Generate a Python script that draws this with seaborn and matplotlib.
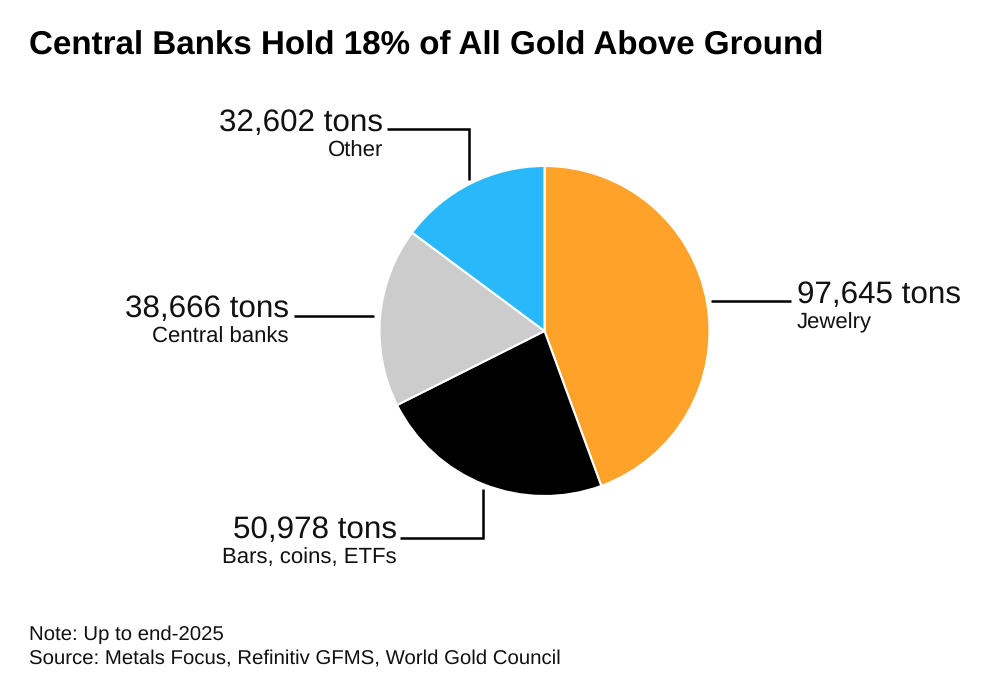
import matplotlib.pyplot as plt
import seaborn as sns

# tons, going clockwise from 12 o'clock
categories = ["Jewelry", "Bars, coins, ETFs", "Central banks", "Other"]
tons = [97645, 50978, 38666, 32602]
tick_labels = ["97,645 tons", "50,978 tons", "38,666 tons", "32,602 tons"]
colors = ["#ffa229", "#000000", "#cccccc", "#29b9fb"]

sns.set_theme(style="white")
plt.rcParams["font.family"] = ["Liberation Sans", "DejaVu Sans"]
plt.rcParams["text.hinting"] = "no_hinting"

W, H = 1000, 693
fig = plt.figure(figsize=(W / 100, H / 100), dpi=100, facecolor="white")

# axes in pixel coords so leader lines line up with the picture
ax = fig.add_axes([0, 0, 1, 1])
ax.axis("off")

cx, cy, r = 544.5, 331, 165
ax.pie(tons, colors=colors, startangle=90, counterclock=False, center=(cx, -cy), radius=r,
       wedgeprops={"edgecolor": "white", "linewidth": 1.5}, frame=False)
ax.set_aspect("auto")
ax.set_xlim(0, W)
ax.set_ylim(-H, 0)

fig.text(29 / W, 1 - 46 / H, "Central Banks Hold 18% of All Gold Above Ground", fontsize=23.9,
         fontweight="bold", color="black", va="center", ha="left")


def leader(xs, ys):
    ax.plot(xs, [-y for y in ys], color="black", lw=1.8, solid_capstyle="butt", solid_joinstyle="miter")


def label(x, y, value, name, ha):
    ax.text(x, -y, value, fontsize=22.6, ha=ha, va="center", color="#111111")
    ax.text(x, -(y + 28), name, fontsize=15.9, ha=ha, va="center", color="#111111")


leader([711, 791], [301, 301])
label(797, 295, tick_labels[0], categories[0], "left")

leader([400, 483, 483], [538, 538, 489])
label(397, 530, tick_labels[1], categories[1], "right")

leader([294, 374], [316, 316])
label(289, 309, tick_labels[2], categories[2], "right")

leader([387, 469, 469], [129, 129, 180])
label(383, 123, tick_labels[3], categories[3], "right")

fig.text(29 / W, 1 - 635 / H, "Note: Up to end-2025", fontsize=14.7, color="#111111", va="center")
fig.text(29 / W, 1 - 659 / H, "Source: Metals Focus, Refinitiv GFMS, World Gold Council", fontsize=14.7,
         color="#111111", va="center")

fig.savefig("out.png", dpi=100, facecolor="white")
